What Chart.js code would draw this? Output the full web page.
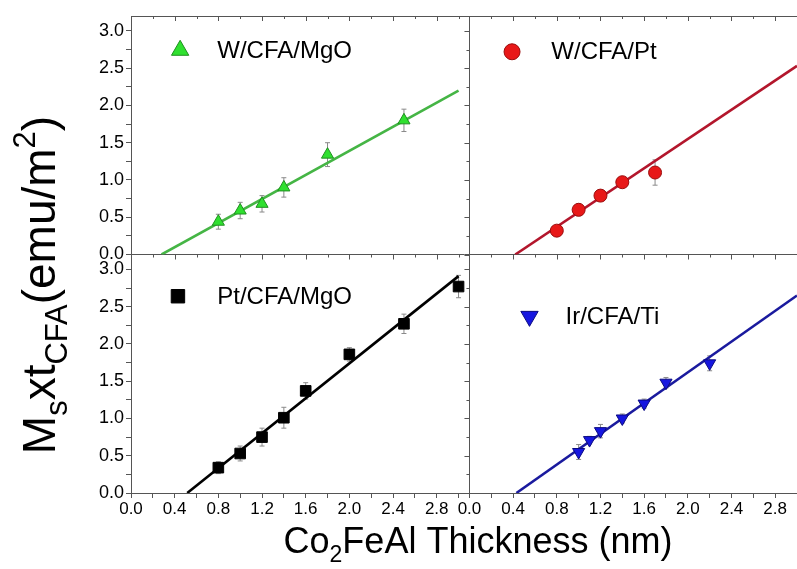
<!DOCTYPE html>
<html>
<head>
<meta charset="utf-8">
<script src="https://cdn.jsdelivr.net/npm/chart.js@4.4.0/dist/chart.umd.min.js"></script>
<style>
  html, body { margin: 0; padding: 0; background: #fff; }
</style>
</head>
<body>
<canvas id="myChart" width="797" height="569"></canvas>
<script>
// --- data (thickness in nm, Ms x t in emu/m2) ---
// top left: W/CFA/MgO
const wMgoX = [0.8, 1.0, 1.2, 1.4, 1.8, 2.5];
const wMgoY = [0.44, 0.59, 0.68, 0.90, 1.34, 1.80];
const wMgoErr = [0.10, 0.11, 0.11, 0.13, 0.16, 0.15];
const wMgoFitX = [0.28, 3.0];
const wMgoFitY = [0, 2.20];

// top right: W/CFA/Pt
const wPtX = [0.8, 1.0, 1.2, 1.4, 1.7];
const wPtY = [0.32, 0.60, 0.79, 0.97, 1.10];
const wPtErr = [0.05, 0.08, 0.04, 0.05, 0.17];
const wPtFitX = [0.42, 3.0];
const wPtFitY = [0, 2.53];

// bottom left: Pt/CFA/MgO
const ptMgoX = [0.8, 1.0, 1.2, 1.4, 1.6, 2.0, 2.5, 3.0];
const ptMgoY = [0.34, 0.53, 0.75, 1.01, 1.37, 1.86, 2.27, 2.77];
const ptMgoErr = [0.08, 0.10, 0.12, 0.14, 0.11, 0.09, 0.13, 0.15];
const ptMgoFitX = [0.515, 3.0];
const ptMgoFitY = [0, 2.91];

// bottom right: Ir/CFA/Ti
const irTiX = [1.0, 1.1, 1.2, 1.4, 1.6, 1.8, 2.2];
const irTiY = [0.55, 0.71, 0.83, 1.00, 1.20, 1.48, 1.74];
const irTiErr = [0.10, 0.05, 0.09, 0.06, 0.06, 0.07, 0.10];
const irTiFitX = [0.43, 3.0];
const irTiFitY = [0, 2.65];

const xLabelStep = 0.4;
const yLabelStep = 0.5;

const FONT = '"Liberation Sans", Arial, sans-serif';

const pts = (xs, ys) => xs.map((x, i) => ({ x: x, y: ys[i] }));

function scatterSet(label, xs, ys, errs, xAxis, yAxis, style) {
  return Object.assign({
    type: 'scatter',
    label: label,
    data: pts(xs, ys),
    errors: errs,
    xAxisID: xAxis,
    yAxisID: yAxis,
    order: 1
  }, style);
}

function fitSet(xs, ys, xAxis, yAxis, color) {
  return {
    type: 'line',
    data: pts(xs, ys),
    xAxisID: xAxis,
    yAxisID: yAxis,
    borderColor: color,
    borderWidth: 2.6,
    pointRadius: 0,
    fill: false,
    order: 2
  };
}

const onStep = (v, step) => Math.abs(v / step - Math.round(v / step)) < 1e-6;

function keepSteps(step) {
  return scale => { scale.ticks = scale.ticks.filter(t => onStep(t.value, step)); };
}

function xScale(max, weight) {
  return {
    type: 'linear',
    position: 'bottom',
    stack: 'x',
    stackWeight: weight,
    min: 0,
    max: max,
    afterBuildTicks: keepSteps(0.2),
    afterFit: s => { s.height = 76; s.paddingLeft = 0; s.paddingRight = 0; },
    border: { color: '#555', width: 1 },
    ticks: {
      stepSize: 0.2,
      includeBounds: false,
      autoSkip: false,
      maxRotation: 0,
      padding: 1,
      color: '#000',
      font: { family: FONT, size: 17 },
      callback: v => onStep(v, xLabelStep) ? v.toFixed(1) : ''
    }
  };
}

function yScale(showZeroLine) {
  return {
    type: 'linear',
    position: 'left',
    stack: 'y',
    stackWeight: 1,
    min: 0,
    max: 3.2,
    afterBuildTicks: keepSteps(0.25),
    afterFit: s => { s.width = 131; s.paddingTop = 0; s.paddingBottom = 0; },
    border: { color: '#555', width: 1 },
    grid: {
      drawOnChartArea: showZeroLine,
      color: c => (c.tick && c.tick.value === 0) ? '#555' : 'rgba(0,0,0,0)',
      tickColor: '#555',
      tickLength: 5
    },
    ticks: {
      stepSize: 0.25,
      includeBounds: false,
      autoSkip: false,
      padding: 2,
      color: '#000',
      font: { family: FONT, size: 18 },
      callback: v => onStep(v, yLabelStep) ? v.toFixed(1) : ''
    }
  };
}

const x1 = xScale(3.1, 3.1);
x1.grid = { drawOnChartArea: false, tickColor: '#555', tickLength: 5 };
const x2 = xScale(3.0, 3.0);
x2.grid = {
  drawOnChartArea: true,
  color: c => (c.tick && c.tick.value === 0) ? '#555' : 'rgba(0,0,0,0)',
  tickColor: '#555',
  tickLength: 5
};

// error bars, drawn under the markers
const errorBars = {
  id: 'errorBars',
  beforeDatasetsDraw(chart) {
    const ctx = chart.ctx;
    ctx.save();
    ctx.strokeStyle = '#8a8a8a';
    ctx.lineWidth = 1;
    chart.data.datasets.forEach((ds, i) => {
      if (!ds.errors) return;
      const ys = chart.scales[ds.yAxisID];
      chart.getDatasetMeta(i).data.forEach((el, j) => {
        const v = ds.data[j].y, e = ds.errors[j];
        const top = ys.getPixelForValue(v + e), bot = ys.getPixelForValue(v - e);
        ctx.beginPath();
        ctx.moveTo(el.x, top); ctx.lineTo(el.x, bot);
        ctx.moveTo(el.x - 2.5, top); ctx.lineTo(el.x + 2.5, top);
        ctx.moveTo(el.x - 2.5, bot); ctx.lineTo(el.x + 2.5, bot);
        ctx.stroke();
      });
    });
    ctx.restore();
  }
};

// frame pieces and inner ticks of the 2x2 grid
const frame = {
  id: 'frame',
  afterDatasetsDraw(chart) {
    const ctx = chart.ctx, a = chart.chartArea;
    const sx1 = chart.scales.x1, sx2 = chart.scales.x2;
    const syT = chart.scales.yTop, syB = chart.scales.yBot;
    const midX = sx2.getPixelForValue(0), midY = syT.getPixelForValue(0);
    ctx.save();
    ctx.strokeStyle = '#555';
    ctx.lineWidth = 1;
    ctx.beginPath();
    ctx.moveTo(a.left, a.top + 0.5); ctx.lineTo(a.right, a.top + 0.5);
    [sx1, sx2].forEach(s => s.ticks.forEach(t => {
      const p = Math.round(s.getPixelForValue(t.value)) + 0.5;
      const len = onStep(t.value, xLabelStep) ? 5 : 3;
      ctx.moveTo(p, a.top); ctx.lineTo(p, a.top + len);
      ctx.moveTo(p, midY); ctx.lineTo(p, midY + len);
    }));
    [syT, syB].forEach(s => s.ticks.forEach(t => {
      const p = Math.round(s.getPixelForValue(t.value)) + 0.5;
      const len = onStep(t.value, yLabelStep) ? 5 : 3;
      ctx.moveTo(midX, p); ctx.lineTo(midX - len, p);
    }));
    ctx.stroke();
    ctx.restore();
  }
};

// one small legend inside each panel
const panelLegends = {
  id: 'panelLegends',
  afterDraw(chart) {
    const ctx = chart.ctx;
    ctx.save();
    chart.data.datasets.forEach(ds => {
      if (!ds.legendAt) return;
      const xs = chart.scales[ds.xAxisID], ys = chart.scales[ds.yAxisID];
      const mx = xs.getPixelForValue(ds.legendAt[0]);
      const my = ys.getPixelForValue(ds.legendAt[1]);
      const tx = xs.getPixelForValue(ds.legendAt[2]);
      ctx.fillStyle = ds.backgroundColor;
      ctx.strokeStyle = ds.borderColor;
      Chart.helpers.drawPoint(ctx, {
        pointStyle: ds.pointStyle,
        rotation: ds.rotation || 0,
        radius: ds.legendRadius,
        borderWidth: 1
      }, mx, my);
      ctx.fillStyle = '#000';
      ctx.font = '24px ' + FONT;
      ctx.textBaseline = 'middle';
      ctx.textAlign = 'left';
      ctx.fillText(ds.label, tx, my + 1);
    });
    ctx.restore();
  }
};

// axis titles with sub/superscripts
function drawRich(ctx, parts, x, y, align) {
  let w = 0;
  parts.forEach(p => { ctx.font = p.size + 'px ' + FONT; w += ctx.measureText(p.t).width; });
  let cx = align === 'center' ? x - w / 2 : x;
  parts.forEach(p => {
    ctx.font = p.size + 'px ' + FONT;
    ctx.fillText(p.t, cx, y + (p.dy || 0));
    cx += ctx.measureText(p.t).width;
  });
}

const axisTitles = {
  id: 'axisTitles',
  afterDraw(chart) {
    const ctx = chart.ctx;
    ctx.save();
    ctx.fillStyle = '#000';
    ctx.textBaseline = 'alphabetic';
    ctx.textAlign = 'left';
    drawRich(ctx, [
      { t: 'Co', size: 36 },
      { t: '2', size: 23, dy: 9 },
      { t: 'FeAl Thickness (nm)', size: 36 }
    ], 478, 553, 'center');
    ctx.translate(55, 285);
    ctx.rotate(-Math.PI / 2);
    drawRich(ctx, [
      { t: 'M', size: 46 },
      { t: 's', size: 31, dy: 12 },
      { t: 'xt', size: 46 },
      { t: 'CFA', size: 31, dy: 12 },
      { t: '(emu/m', size: 46 },
      { t: '2', size: 31, dy: -20 },
      { t: ')', size: 46 }
    ], 0, 0, 'center');
    ctx.restore();
  }
};

const chart = new Chart(document.getElementById('myChart').getContext('2d'), {
  data: {
    datasets: [
      scatterSet('W/CFA/MgO', wMgoX, wMgoY, wMgoErr, 'x1', 'yTop', {
        pointStyle: 'triangle', pointRadius: 7, backgroundColor: '#2fe02f', borderColor: '#1f8f1f',
        borderWidth: 1, legendAt: [0.45, 2.74, 0.79], legendRadius: 10
      }),
      scatterSet('W/CFA/Pt', wPtX, wPtY, wPtErr, 'x2', 'yTop', {
        pointStyle: 'circle', pointRadius: 6.5, backgroundColor: '#e81818', borderColor: '#9a0c0c',
        borderWidth: 1, legendAt: [0.39, 2.72, 0.75], legendRadius: 8
      }),
      scatterSet('Pt/CFA/MgO', ptMgoX, ptMgoY, ptMgoErr, 'x1', 'yBot', {
        pointStyle: 'rect', pointRadius: 7.5, backgroundColor: '#000', borderColor: '#000',
        borderWidth: 1, legendAt: [0.43, 2.64, 0.79], legendRadius: 9.5
      }),
      scatterSet('Ir/CFA/Ti', irTiX, irTiY, irTiErr, 'x2', 'yBot', {
        pointStyle: 'triangle', rotation: 180, pointRadius: 7, backgroundColor: '#1616e0', borderColor: '#0a0a80',
        borderWidth: 1, legendAt: [0.55, 2.37, 0.88], legendRadius: 10
      }),
      fitSet(wMgoFitX, wMgoFitY, 'x1', 'yTop', '#45b545'),
      fitSet(wPtFitX, wPtFitY, 'x2', 'yTop', '#b3162c'),
      fitSet(ptMgoFitX, ptMgoFitY, 'x1', 'yBot', '#000'),
      fitSet(irTiFitX, irTiFitY, 'x2', 'yBot', '#1a1a9e')
    ]
  },
  options: {
    responsive: false,
    animation: false,
    devicePixelRatio: 1,
    layout: { autoPadding: false, padding: { top: 16, right: 0, left: 0, bottom: 0 } },
    plugins: { legend: { display: false }, tooltip: { enabled: false } },
    scales: {
      // the left stack is placed bottom-up, so the lower panel's axis comes first
      yBot: yScale(false),
      yTop: yScale(true),
      x1: x1,
      x2: x2
    }
  },
  plugins: [errorBars, frame, panelLegends, axisTitles]
});
</script>
</body>
</html>
